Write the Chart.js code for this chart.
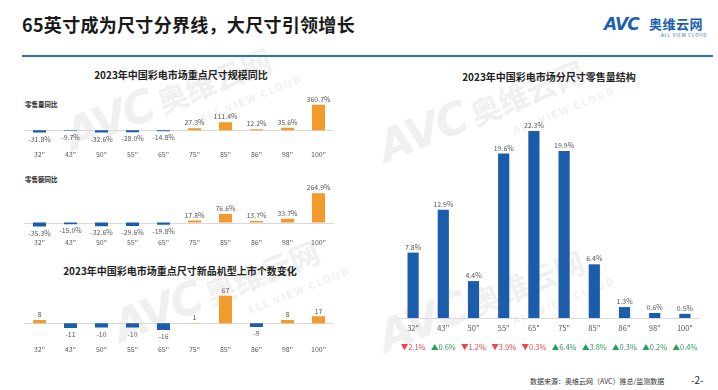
<!DOCTYPE html>
<html>
<head>
<meta charset="utf-8">
<script src="https://cdn.jsdelivr.net/npm/chart.js@4.4.0/dist/chart.umd.min.js"></script>
<style>
  html, body { margin: 0; padding: 0; background: #fff; }
  body { width: 718px; height: 390px; position: relative; overflow: hidden; font-family: "Noto Sans CJK SC", "Noto Sans", sans-serif; }
  .abs { position: absolute; }
  .title { font-size: 18px; font-weight: bold; color: #1a1a1a; left: 22px; top: 11px; letter-spacing: 0.3px; }
  .rule { left: 22px; top: 55px; width: 691px; height: 2px; background: #2f6fb5; }
  .ctitle { font-size: 10px; font-weight: bold; color: #222; white-space: nowrap; transform: translateX(-50%); }
  .sub { font-size: 6.5px; font-weight: bold; color: #222; }
  .wm { color: #f0f0f0; font-weight: bold; white-space: nowrap; transform-origin: left bottom; transform: rotate(-22deg); }
  .wm .avc { font-size: 44px; font-family: "DejaVu Sans", sans-serif; font-style: italic; letter-spacing: -2px; }
  .wm .cn { font-size: 30px; margin-left: 6px; }
  .wm .en { font-size: 10px; letter-spacing: 2px; }
</style>
</head>
<body>
<!-- watermarks -->
<div class="abs wm" style="left:82px; top:108px;"><span class="avc">AVC</span><span class="cn">奥维云网</span><div class="en" style="margin-left:130px;">ALL VIEW CLOUD</div></div>
<div class="abs wm" style="left:130px; top:300px;"><span class="avc">AVC</span><span class="cn">奥维云网</span><div class="en" style="margin-left:130px;">ALL VIEW CLOUD</div></div>
<div class="abs wm" style="left:395px; top:120px;"><span class="avc">AVC</span><span class="cn">奥维云网</span><div class="en" style="margin-left:130px;">ALL VIEW CLOUD</div></div>
<div class="abs wm" style="left:395px; top:310px;"><span class="avc">AVC</span><span class="cn">奥维云网</span><div class="en" style="margin-left:130px;">ALL VIEW CLOUD</div></div>

<div class="abs title">65英寸成为尺寸分界线，大尺寸引领增长</div>
<div class="abs rule"></div>
<!-- logo -->
<div class="abs" style="left:604px; top:14px; font-family:'DejaVu Sans',sans-serif; font-weight:bold; font-style:italic; font-size:17px; color:#1d5fae; letter-spacing:-1px;">AVC</div>
<div class="abs" style="left:649px; top:14px; font-weight:bold; font-size:13px; color:#1d5fae; letter-spacing:0.5px;">奥维云网</div>
<div class="abs" style="left:661px; top:32px; font-size:4.5px; color:#1d5fae; letter-spacing:0.8px;">ALL VIEW CLOUD</div>

<div class="abs ctitle" style="left:181px; top:67px;">2023年中国彩电市场重点尺寸规模同比</div>
<div class="abs sub" style="left:25px; top:99px;">零售量同比</div>
<div class="abs sub" style="left:25px; top:174px;">零售额同比</div>
<div class="abs ctitle" style="left:180px; top:263px;">2023年中国彩电市场重点尺寸新品机型上市个数变化</div>
<div class="abs ctitle" style="left:549px; top:69px;">2023年中国彩电市场分尺寸零售量结构</div>

<div class="abs" style="left:24px; top:90px; width:310px; height:75px;"><canvas id="c1"></canvas></div>
<div class="abs" style="left:24px; top:179px; width:310px; height:73px;"><canvas id="c2"></canvas></div>
<div class="abs" style="left:24px; top:279px; width:310px; height:82px;"><canvas id="c3"></canvas></div>
<div class="abs" style="left:398px; top:110px; width:302px; height:254px;"><canvas id="c4"></canvas></div>

<div class="abs" style="left:530px; top:376px; font-size:7px; color:#333;">数据来源：奥维云网（AVC）推总/监测数据</div>
<div class="abs" style="left:691px; top:372px; font-size:10px; color:#333;">-2-</div>

<script>
// data
const sizes = ['32"', '43"', '50"', '55"', '65"', '75"', '85"', '86"', '98"', '100"'];
const volumeYoY = [-31.8, -9.7, -32.6, -28.0, -14.8, 27.3, 111.4, 12.2, 35.6, 360.7];
const valueYoY = [-35.3, -15.0, -32.6, -29.6, -19.8, 17.8, 76.6, 13.7, 33.7, 264.9];
const newModels = [8, -11, -10, -10, -16, 1, 67, -9, 8, 17];
const volumeShare = [7.8, 12.9, 4.4, 19.6, 22.3, 19.9, 6.4, 1.3, 0.6, 0.5];
const shareChange = [-2.1, 0.6, -1.2, -3.9, -0.3, 6.4, 3.8, 0.3, 0.2, 0.4];

const BLUE = '#1b5cab';
const ORANGE = '#f29a2c';
const FONT = '"Noto Sans CJK SC", "Noto Sans", sans-serif';

const zeroLine = {
  id: 'zeroLine',
  beforeDatasetsDraw(chart) {
    const { ctx, chartArea, scales } = chart;
    const y = Math.round(scales.y.getPixelForValue(0)) + 0.5;
    ctx.save();
    ctx.strokeStyle = '#d9d9d9';
    ctx.lineWidth = 1;
    ctx.beginPath();
    ctx.moveTo(chartArea.left, y);
    ctx.lineTo(chartArea.right, y);
    ctx.stroke();
    ctx.restore();
  }
};

const valueLabels = {
  id: 'valueLabels',
  afterDatasetsDraw(chart, args, opts) {
    const ctx = chart.ctx;
    const meta = chart.getDatasetMeta(0);
    const data = chart.data.datasets[0].data;
    ctx.save();
    ctx.font = '7px ' + FONT;
    ctx.fillStyle = '#595959';
    ctx.textAlign = 'center';
    meta.data.forEach((bar, i) => {
      const v = data[i];
      const text = opts.fmt(v);
      if (v >= 0) {
        ctx.textBaseline = 'bottom';
        ctx.fillText(text, bar.x, bar.y - 2);
      } else {
        ctx.textBaseline = 'top';
        ctx.fillText(text, bar.x, bar.y + 3);
      }
    });
    ctx.restore();
  }
};

// row of share changes under the right chart
const changeRow = {
  id: 'changeRow',
  afterDraw(chart, args, opts) {
    if (!opts.values) return;
    const { ctx, scales, chartArea } = chart;
    ctx.save();
    ctx.font = '7.5px ' + FONT;
    ctx.textAlign = 'center';
    ctx.textBaseline = 'middle';
    opts.values.forEach((v, i) => {
      const x = scales.x.getPixelForValue(i);
      ctx.fillStyle = v < 0 ? '#e8474d' : '#2c9d58';
      ctx.fillText((v < 0 ? '▼' : '▲') + Math.abs(v).toFixed(1) + '%', x, chartArea.bottom + opts.offset);
    });
    ctx.restore();
  }
};

function makeBar(id, values, colors, yMin, yMax, fmt, extra) {
  extra = extra || {};
  return new Chart(document.getElementById(id), {
    type: 'bar',
    data: {
      labels: sizes,
      datasets: [{
        data: values,
        backgroundColor: colors,
        barPercentage: extra.barPct || 0.42,
        categoryPercentage: 1,
      }],
    },
    options: {
      responsive: true,
      maintainAspectRatio: false,
      animation: false,
      layout: { padding: { top: 5, left: 0, right: 0, bottom: extra.bottomPad || 0 } },
      plugins: {
        legend: { display: false },
        tooltip: { enabled: false },
        valueLabels: { fmt: fmt },
        changeRow: { values: extra.changes, offset: 29 },
      },
      scales: {
        x: {
          grid: { display: false, drawTicks: false, tickLength: 0 },
          border: { display: false },
          ticks: { color: '#595959', font: { size: extra.tickSize || 7, family: FONT }, padding: extra.tickPad || 3, maxRotation: 0, autoSkip: false },
        },
        y: { display: false, min: yMin, max: yMax },
      },
    },
    plugins: [zeroLine, valueLabels, changeRow],
  });
}

const signColor = arr => arr.map(v => (v < 0 ? BLUE : ORANGE));
const pct = v => v.toFixed(1) + '%';

makeBar('c1', volumeYoY, signColor(volumeYoY), -205, 500, pct, { tickPad: 6 });
makeBar('c2', valueYoY, signColor(valueYoY), -99, 347, pct, { tickPad: 5 });
makeBar('c3', newModels, signColor(newModels), -37, 95.6, v => String(v), { tickPad: 7 });
makeBar('c4', volumeShare, BLUE, 0, 24.2, pct, { barPct: 0.37, tickPad: 6, tickSize: 7.5, bottomPad: 25, changes: shareChange });
</script>
</body>
</html>
